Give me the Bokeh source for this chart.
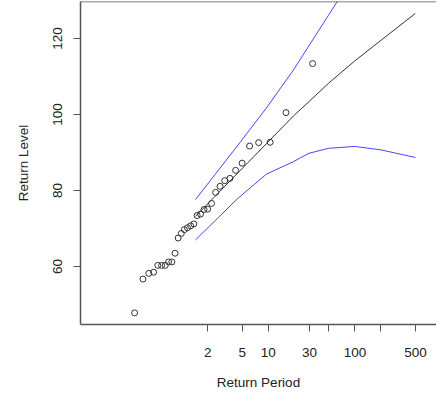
import math
from bokeh.plotting import figure
from bokeh.models import FixedTicker, Span, Range1d
from bokeh.embed import file_html
from bokeh.resources import INLINE

# Empirical points: plotting-position return periods and sorted observed levels
emp_period = [0.2860, 0.3567, 0.4170, 0.4739, 0.5299, 0.5866, 0.6449, 0.7057,
              0.7696, 0.8376, 0.9102, 0.9885, 1.0734, 1.1663, 1.2684, 1.3814,
              1.5076, 1.6499, 1.8113, 1.9968, 2.2124, 2.4661, 2.7701, 3.1407,
              3.6023, 4.1946, 4.9826, 6.0864, 7.7399, 10.493, 16.000, 32.47]
emp_level = [47.8, 56.7, 58.2, 58.5, 60.3, 60.3, 60.3, 61.2,
             61.2, 63.5, 67.5, 68.7, 69.7, 70.2, 70.7, 71.2,
             73.4, 73.8, 75.0, 75.1, 76.6, 79.5, 81.1, 82.6,
             83.2, 85.3, 87.2, 91.7, 92.6, 92.7, 100.5, 113.4]

# Fitted return levels with confidence bounds
rl_period = [2, 5, 10, 20, 30, 50, 100, 200, 500]
rl_est = [73.2, 84.7, 92.3, 99.6, 103.4, 108.2, 114.1, 119.5, 126.6]
rl_lower = [67.0, 78.0, 84.3, 87.6, 89.8, 91.1, 91.6, 90.7, 88.7]
rl_upper = [77.6, 92.0, 101.7, 111.7, 118.1, 126.1, 137.0, 149.0, 170.0]

x_ticks = [2, 5, 10, 30, 50, 100, 200, 500]
x_tick_labels = ["2", "5", "10", "30", "", "100", "", "500"]
y_ticks = [60, 80, 100, 120]

rl_x = [-1.0 / math.log(1.0 - 1.0 / t) for t in rl_period]

FONT = "Liberation Sans"

p = figure(width=436, height=396, x_axis_type="log",
           x_range=Range1d(0.06782, 875.7), y_range=Range1d(44.74, 129.74),
           output_backend="svg", toolbar_location=None,
           min_border_left=80, min_border_right=0, min_border_top=1,
           min_border_bottom=72)
p.background_fill_color = "white"
p.border_fill_color = "white"
p.outline_line_color = None
p.grid.visible = False

p.line(rl_x, rl_upper, line_color="#4646ff", line_width=1)
p.line(rl_x, rl_lower, line_color="#4646ff", line_width=1)
p.line(rl_x, rl_est, line_color="#333333", line_width=1)
p.scatter(emp_period, emp_level, marker="circle", size=6,
          fill_color=None, line_color="#333333", line_width=1)

p.add_layout(Span(location=129.74, dimension="width",
                  line_color="#555555", line_width=1.5))

ax = p.xaxis[0]
ax.ticker = FixedTicker(ticks=x_ticks, minor_ticks=[])
ax.major_label_overrides = {t: lab for t, lab in zip(x_ticks, x_tick_labels)}
ax.axis_label = "Return Period"

ay = p.yaxis[0]
ay.ticker = FixedTicker(ticks=y_ticks, minor_ticks=[])
ay.major_label_orientation = "vertical"
ay.axis_label = "Return Level"

for a in (ax, ay):
    a.axis_line_color = "#555555"
    a.axis_line_width = 1.5
    a.major_tick_line_color = "#555555"
    a.major_tick_out = 7
    a.major_tick_in = 0
    a.minor_tick_line_color = None
    a.major_label_text_font = FONT
    a.major_label_text_font_size = "13.5px"
    a.major_label_text_color = "#222222"
    a.axis_label_text_font = FONT
    a.axis_label_text_font_size = "13.5px"
    a.axis_label_text_font_style = "normal"
    a.axis_label_text_color = "#222222"

ax.major_label_standoff = 16
ax.axis_label_standoff = 15
ay.major_label_standoff = 11
ay.axis_label_standoff = 20

open("out.html", "w").write(file_html(p, INLINE))
